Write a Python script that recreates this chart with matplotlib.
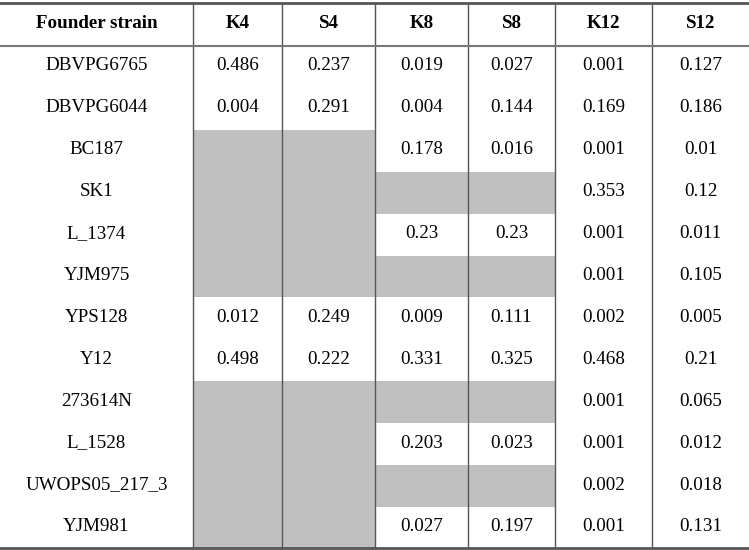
import matplotlib
matplotlib.use('Agg')
import matplotlib.pyplot as plt
from matplotlib.patches import Rectangle

plt.rcParams['font.family'] = ['Liberation Serif', 'DejaVu Serif']

header_first = 'Founder strain'
columns = ['K4', 'S4', 'K8', 'S8', 'K12', 'S12']
strains = ['DBVPG6765', 'DBVPG6044', 'BC187', 'SK1', 'L_1374', 'YJM975',
           'YPS128', 'Y12', '273614N', 'L_1528', 'UWOPS05_217_3', 'YJM981']

# None = greyed-out cell
K4 = ['0.486', '0.004', None, None, None, None, '0.012', '0.498', None, None, None, None]
S4 = ['0.237', '0.291', None, None, None, None, '0.249', '0.222', None, None, None, None]
K8 = ['0.019', '0.004', '0.178', None, '0.23', None, '0.009', '0.331', None, '0.203', None, '0.027']
S8 = ['0.027', '0.144', '0.016', None, '0.23', None, '0.111', '0.325', None, '0.023', None, '0.197']
K12 = ['0.001', '0.169', '0.001', '0.353', '0.001', '0.001', '0.002', '0.468', '0.001', '0.001', '0.002', '0.001']
S12 = ['0.127', '0.186', '0.01', '0.12', '0.011', '0.105', '0.005', '0.21', '0.065', '0.012', '0.018', '0.131']
values = [K4, S4, K8, S8, K12, S12]

# layout in pixels
W, H = 749, 550
col_edges = [0, 193, 282, 375, 468, 555, 652, W]
top, head_bot, bottom = 3, 46, 548
row_h = 41.9
grey = '#c0c0c0'
line_c = '#555555'

fig = plt.figure(figsize=(W / 100, H / 100), dpi=100)
ax = fig.add_axes([0, 0, 1, 1])
ax.set_xlim(0, W)
ax.set_ylim(H, 0)
ax.axis('off')

fs = 13.7

# header
centers = [(col_edges[i] + col_edges[i + 1]) / 2 for i in range(len(col_edges) - 1)]
for x, lab in zip(centers, [header_first] + columns):
    ax.text(x, 27.5, lab, ha='center', va='baseline',
            fontsize=fs, fontweight='bold')

# body
for r, strain in enumerate(strains):
    y0 = head_bot + r * row_h
    yb = y0 + 24.5
    ax.text(centers[0], yb, strain, ha='center', va='baseline', fontsize=fs)
    for c, col_vals in enumerate(values):
        v = col_vals[r]
        x0, x1 = col_edges[c + 1], col_edges[c + 2]
        if v is None:
            h = min(row_h, bottom - y0)
            ax.add_patch(Rectangle((x0, y0), x1 - x0, h, facecolor=grey,
                                   edgecolor='none', zorder=1))
        else:
            ax.text(centers[c + 1], yb, v, ha='center', va='baseline', fontsize=fs)

# rules
for x in col_edges[1:-1]:
    ax.plot([x, x], [top, bottom], color=line_c, lw=1.0, zorder=3)
ax.plot([0, W], [top, top], color=line_c, lw=2.0, zorder=3)
ax.plot([0, W], [head_bot, head_bot], color='#777777', lw=1.5, zorder=3)
ax.plot([0, W], [bottom, bottom], color=line_c, lw=2.0, zorder=3)

fig.savefig('out.png', dpi=100)
